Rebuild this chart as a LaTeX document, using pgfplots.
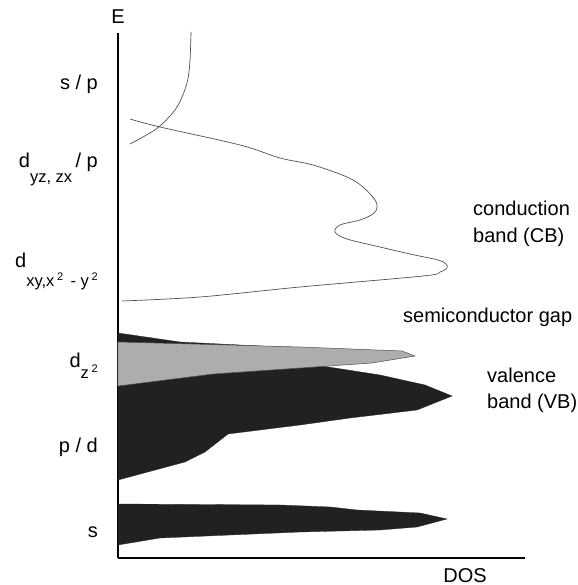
\documentclass[border=0pt]{standalone}
\usepackage{pgfplots}
\pgfplotsset{compat=1.18}
\usepackage{fontspec}
\setmainfont{Liberation Sans}
\definecolor{bandblack}{HTML}{212121}
\definecolor{bandgrey}{HTML}{ADADAD}
\definecolor{curvegrey}{HTML}{505050}
\newcommand{\lab}{\fontsize{20bp}{24bp}\selectfont}
\newcommand{\sub}{\fontsize{16.5bp}{18bp}\selectfont}
\newcommand{\sups}{\fontsize{11bp}{12bp}\selectfont}
\begin{document}
\begin{tikzpicture}
\useasboundingbox (-118bp,-27bp) rectangle (460bp,558bp);
\begin{axis}[
  scale only axis,
  width=407bp, height=525bp,
  xmin=118, xmax=525, ymin=27, ymax=552,
  axis lines=left,
  axis line style={-, line width=1.5bp, black},
  xtick=\empty, ytick=\empty,
  clip=false,
]
% valence band (black)
\addplot[fill=bandblack, draw=bandblack, line width=0.3bp] table[x index=0, y expr=585-\thisrowno{1}] {
118 333
180 342
300 348
322 366
380 375
425 385
452 396
417 410
350 418
300 425
228 434
205 452
185 462
118 480
} -- cycle;
% d_z2 band (grey)
\addplot[fill=bandgrey, draw=curvegrey, line width=0.5bp] table[x index=0, y expr=585-\thisrowno{1}] {
118 342
300 347
402 351
415 356
372 363
300 368
213 374
118 386
} -- cycle;
% s band (black)
\addplot[fill=bandblack, draw=bandblack, line width=0.3bp] table[x index=0, y expr=585-\thisrowno{1}] {
118 504
280 505
330 507
357 510
420 513
447 519
417 527
380 530
300 532
160 538
118 545
} -- cycle;
% conduction band curve
\addplot[curvegrey, line width=0.7bp, smooth, tension=0.55] table[x index=0, y expr=585-\thisrowno{1}] {
122 301
200 297
300 287
423 276
440 272
447 268
446 264
438 260
410 254
380 247
347 239
335 232
340 225
360 220
373 214
377 208
375 200
363 187
347 177
313 165
280 158
240 145
160 127
130 119
};
% s/p curve
\addplot[curvegrey, line width=0.7bp, smooth, tension=0.55] table[x index=0, y expr=585-\thisrowno{1}] {
130 144
143 137
160 126
177 107
187 83
190 60
191 32
};
% labels
\node[anchor=base] at (axis cs:118,561) {\lab E};
\node[anchor=base] at (axis cs:465,3) {\lab DOS};
\node[anchor=base east, inner sep=0pt] at (axis cs:98,495) {\lab s / p};
\node[anchor=base east, inner sep=0pt] at (axis cs:98,417) {\lab d\raisebox{-15bp}{\sub yz, zx}\,/ p};
\node[anchor=base east, inner sep=0pt] at (axis cs:98,317) {\lab d\raisebox{-19bp}{\sub xy,x\,\raisebox{6bp}{\sups 2}\, - y\,\raisebox{6bp}{\sups 2}}};
\node[anchor=base east, inner sep=0pt] at (axis cs:98,217) {\lab d\raisebox{-11bp}{\sub z\,\raisebox{6bp}{\sups 2}}};
\node[anchor=base east, inner sep=0pt] at (axis cs:98,132) {\lab p / d};
\node[anchor=base east, inner sep=0pt] at (axis cs:98,48) {\lab s};
\node[anchor=base west, inner sep=0pt] at (axis cs:473,369) {\lab conduction};
\node[anchor=base west, inner sep=0pt] at (axis cs:473,342) {\lab band (CB)};
\node[anchor=base west, inner sep=0pt] at (axis cs:403,262) {\lab semiconductor gap};
\node[anchor=base west, inner sep=0pt] at (axis cs:487,202) {\lab valence};
\node[anchor=base west, inner sep=0pt] at (axis cs:487,176) {\lab band (VB)};
\end{axis}
\end{tikzpicture}
\end{document}
